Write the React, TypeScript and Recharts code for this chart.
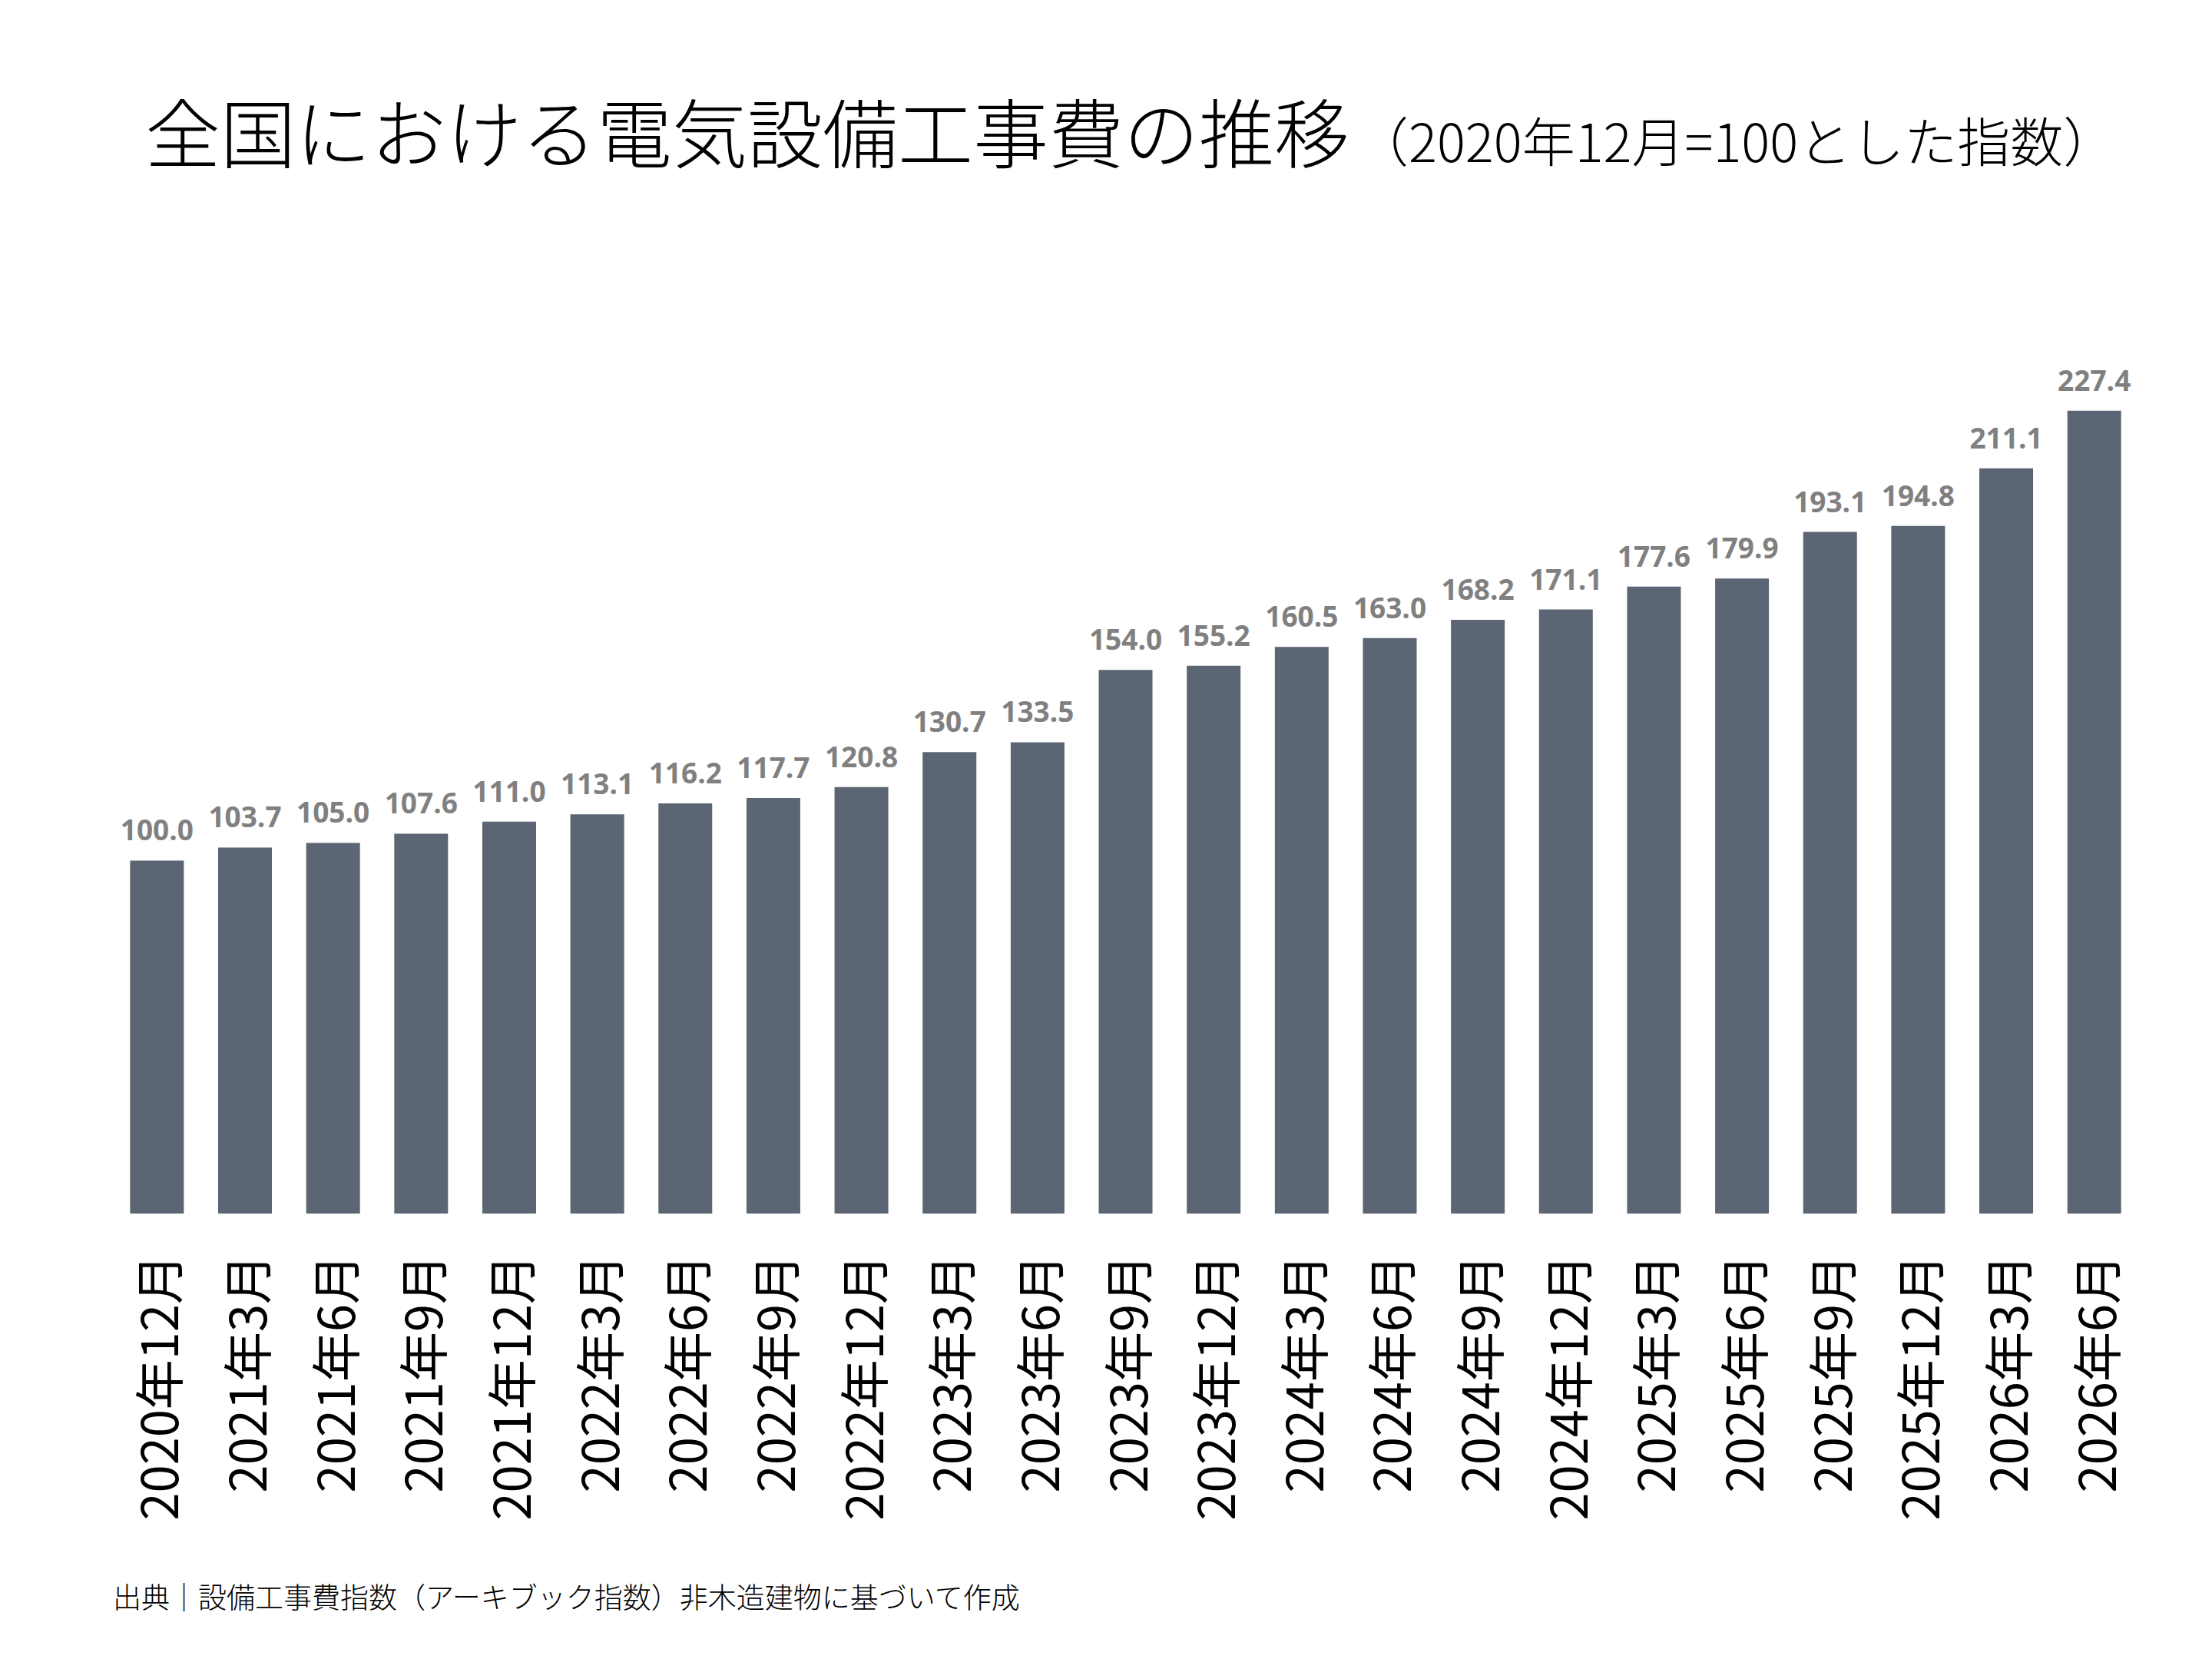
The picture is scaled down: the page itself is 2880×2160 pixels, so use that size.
import { BarChart, Bar, XAxis, YAxis, LabelList } from "recharts";

const periods = [
  "2020年12月",
  "2021年3月",
  "2021年6月",
  "2021年9月",
  "2021年12月",
  "2022年3月",
  "2022年6月",
  "2022年9月",
  "2022年12月",
  "2023年3月",
  "2023年6月",
  "2023年9月",
  "2023年12月",
  "2024年3月",
  "2024年6月",
  "2024年9月",
  "2024年12月",
  "2025年3月",
  "2025年6月",
  "2025年9月",
  "2025年12月",
  "2026年3月",
  "2026年6月",
];

const indexValues = [
  100.0, 103.7, 105.0, 107.6, 111.0, 113.1, 116.2, 117.7, 120.8, 130.7, 133.5,
  154.0, 155.2, 160.5, 163.0, 168.2, 171.1, 177.6, 179.9, 193.1, 194.8, 211.1,
  227.4,
];

const titleMain = "全国における電気設備工事費の推移";
const titleSub = "（2020年12月=100とした指数）";
const sourceNote = "出典｜設備工事費指数（アーキブック指数）非木造建物に基づいて作成";

const jpFont = '"Noto Sans CJK JP", "Noto Sans", sans-serif';

const chartData = periods.map((period, i) => ({
  period,
  value: indexValues[i],
}));

function PeriodTick(props: any) {
  const { x, y, payload } = props;
  return (
    <g transform={`translate(${x},${y + 51})`}>
      <text
        transform="rotate(-90)"
        textAnchor="end"
        dominantBaseline="central"
        fontSize={65}
        fontFamily={jpFont}
        fill="#000"
      >
        {payload.value}
      </text>
    </g>
  );
}

export default function App() {
  return (
    <div
      style={{
        position: "absolute",
        left: 0,
        top: 0,
        width: 2880,
        height: 2160,
        background: "#fff",
      }}
    >
      <BarChart
        width={2880}
        height={2160}
        data={chartData}
        margin={{ top: 431, right: 96, left: 147, bottom: 180 }}
        barCategoryGap="19.5%"
      >
        <XAxis
          dataKey="period"
          interval={0}
          height={400}
          axisLine={false}
          tickLine={false}
          tickSize={0}
          tick={<PeriodTick />}
        />
        <YAxis hide domain={[0, 250]} />
        <Bar dataKey="value" fill="#5b6573" isAnimationActive={false}>
          <LabelList
            dataKey="value"
            position="top"
            offset={26}
            fill="#808080"
            fontSize={37}
            fontWeight="bold"
            fontFamily='"Open Sans", sans-serif'
            formatter={(v: any) => Number(v).toFixed(1)}
          />
        </Bar>
      </BarChart>

      <svg
        width={2880}
        height={2160}
        style={{ position: "absolute", left: 0, top: 0, pointerEvents: "none" }}
      >
        <text x={189} y={211} fontFamily={jpFont} fontWeight={300} fill="#000">
          <tspan fontSize={98}>{titleMain}</tspan>
          <tspan fontSize={69} dx={8}>
            {titleSub}
          </tspan>
        </text>
        <text
          x={147}
          y={2094}
          fontFamily={jpFont}
          fontWeight={300}
          fontSize={37}
          fill="#000"
        >
          {sourceNote}
        </text>
      </svg>
    </div>
  );
}
